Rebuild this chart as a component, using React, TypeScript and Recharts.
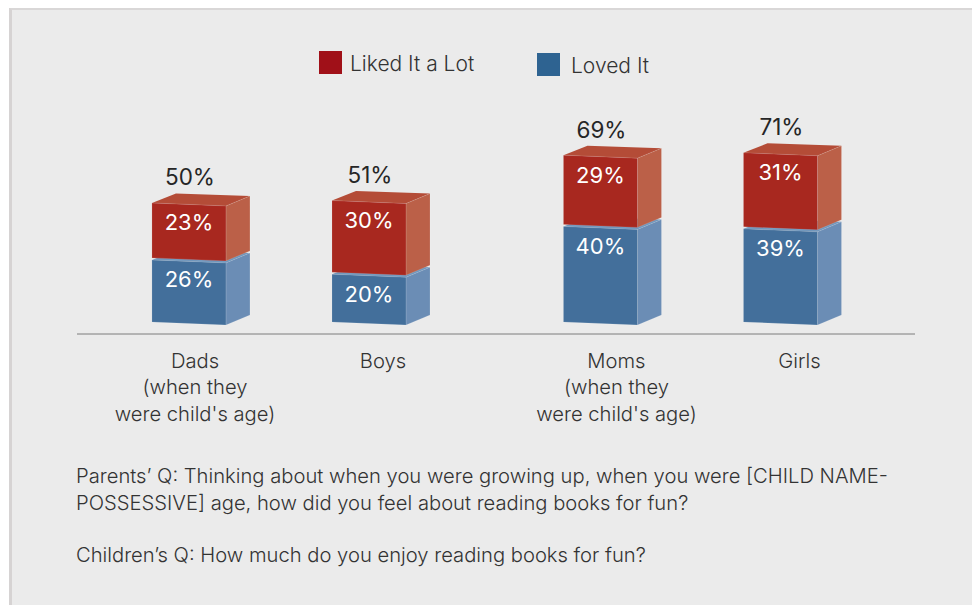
import React from "react";
import { BarChart, Bar, XAxis, YAxis, Legend, LabelList } from "recharts";

const categories = ["Dads", "Boys", "Moms", "Girls"];
const categorySlots = [0, 7, 16, 23];
const tickLines = [
  ["Dads", "(when they", "were child's age)"],
  ["Boys"],
  ["Moms", "(when they", "were child's age)"],
  ["Girls"],
];
const lovedIt = [26, 20, 40, 39];
const likedItALot = [23, 30, 29, 31];
const totals = ["50%", "51%", "69%", "71%"];
const noteLines = [
  "Parents’ Q: Thinking about when you were growing up, when you were [CHILD NAME-",
  "POSSESSIVE] age, how did you feel about reading books for fun?",
  "",
  "Children’s Q: How much do you enjoy reading books for fun?",
];

const data = categories.map((name, i) => ({
  slot: categorySlots[i],
  name,
  loved: lovedIt[i],
  liked: likedItALot[i],
  total: totals[i],
}));

const FONT = "Inter, sans-serif";
const TICK_SHIFT = [6, 14, 16, 19];
const DEPTH_X = 24;
const DEPTH_Y = 10;
const SKEW = 3;

const Cube = ({ x, y, width, height, front, side, top, lift = 0 }: any) => {
  const t = y - lift;
  const b = y + height - lift;
  const r = x + width;
  const edge = "rgba(255,255,255,0.25)";
  return (
    <g>
      <polygon
        points={`${x},${t - SKEW} ${x + DEPTH_X},${t - SKEW - DEPTH_Y + 0.5} ${r + DEPTH_X},${t - DEPTH_Y} ${r},${t}`}
        fill={top}
      />
      <polygon
        points={`${r},${t} ${r + DEPTH_X},${t - DEPTH_Y} ${r + DEPTH_X},${b - DEPTH_Y} ${r},${b}`}
        fill={side}
        stroke={edge}
        strokeWidth={0.5}
      />
      <polygon
        points={`${x},${t - SKEW} ${r},${t} ${r},${b} ${x},${b - SKEW}`}
        fill={front}
        stroke={edge}
        strokeWidth={0.5}
      />
    </g>
  );
};

const Tick = ({ x, index }: any) => {
  const lines = tickLines[index] || [];
  return (
    <text textAnchor="middle" fontFamily={FONT} fontSize={20.2} fontWeight={300} fill="#333333">
      {lines.map((l, i) => (
        <tspan key={i} x={x + TICK_SHIFT[index]} y={367.5 + i * 26.5}>
          {l}
        </tspan>
      ))}
    </text>
  );
};

const InnerLabel = ({ x, y, width, value, lift = 0 }: any) => (
  <text
    x={x + width / 2}
    y={y - lift + 16.5}
    textAnchor="middle"
    dominantBaseline="central"
    fontFamily={FONT}
    fontSize={22}
    fontWeight={400}
    fill="#ffffff"
  >
    {value}%
  </text>
);

const TotalLabel = ({ x, y, width, value }: any) => (
  <text
    x={x + width / 2 + 1}
    y={y - 31}
    textAnchor="middle"
    dominantBaseline="central"
    fontFamily={FONT}
    fontSize={22.5}
    fontWeight={400}
    fill="#262626"
  >
    {value}
  </text>
);

const LegendBox = () => (
  <div style={{ position: "relative", width: 972, height: 1, fontFamily: FONT, fontSize: 21, fontWeight: 300, color: "#333333" }}>
    <div style={{ position: "absolute", left: 319, top: 51, width: 23, height: 23, background: "#A01018" }} />
    <div style={{ position: "absolute", left: 350, top: 50, lineHeight: "28px", whiteSpace: "nowrap" }}>Liked It a Lot</div>
    <div style={{ position: "absolute", left: 537, top: 53, width: 23, height: 23, background: "#2E6391" }} />
    <div style={{ position: "absolute", left: 571, top: 52, lineHeight: "28px", whiteSpace: "nowrap" }}>Loved It</div>
  </div>
);

export default function App() {
  return (
    <div style={{ position: "absolute", left: 0, top: 0, width: 972, height: 605, overflow: "hidden", background: "#fff" }}>
      <div
        style={{
          position: "absolute",
          left: 9,
          top: 8,
          right: 0,
          bottom: 0,
          background: "#EBEBEB",
          borderLeft: "3px solid #D6D3D3",
          borderTop: "2px solid #D9D7D7",
        }}
      />
      <div style={{ position: "absolute", left: 0, top: 0 }}>
        <BarChart
          width={972}
          height={605}
          data={data}
          margin={{ top: 100, right: 57, bottom: 171, left: 77 }}
          barSize={74}
        >
          <XAxis
            dataKey="slot"
            type="number"
            domain={[-4.354, 28.23]}
            ticks={categorySlots}
            allowDataOverflow
            interval={0}
            axisLine={{ stroke: "#7d7d7d", strokeWidth: 1 }}
            tickLine={false}
            tick={<Tick />}
            height={100}
          />
          <YAxis hide domain={[-3.75, 93.75]} allowDataOverflow />
          <Legend content={<LegendBox />} wrapperStyle={{ left: 0, top: 0, width: 972, height: 1 }} verticalAlign="top" />
          <Bar
            dataKey="loved"
            name="Loved It"
            stackId="a"
            isAnimationActive={false}
            shape={<Cube front="#436F9B" side="#6B8DB5" top="#6F96BC" />}
          >
            <LabelList dataKey="loved" content={<InnerLabel />} />
          </Bar>
          <Bar
            dataKey="liked"
            name="Liked It a Lot"
            stackId="a"
            isAnimationActive={false}
            shape={<Cube front="#A8281F" side="#BB6048" top="#B44C37" lift={2} />}
          >
            <LabelList dataKey="liked" content={<InnerLabel lift={2} />} />
            <LabelList dataKey="total" content={<TotalLabel />} />
          </Bar>
        </BarChart>
      </div>
      <div
        style={{
          position: "absolute",
          left: 76,
          top: 463,
          fontFamily: FONT,
          fontSize: 20.2,
          fontWeight: 300,
          lineHeight: "26.5px",
          color: "#333333",
          whiteSpace: "nowrap",
        }}
      >
        {noteLines.map((l, i) => (
          <div key={i} style={{ height: i === 2 ? 26 : 26.5 }}>
            {l}
          </div>
        ))}
      </div>
    </div>
  );
}
